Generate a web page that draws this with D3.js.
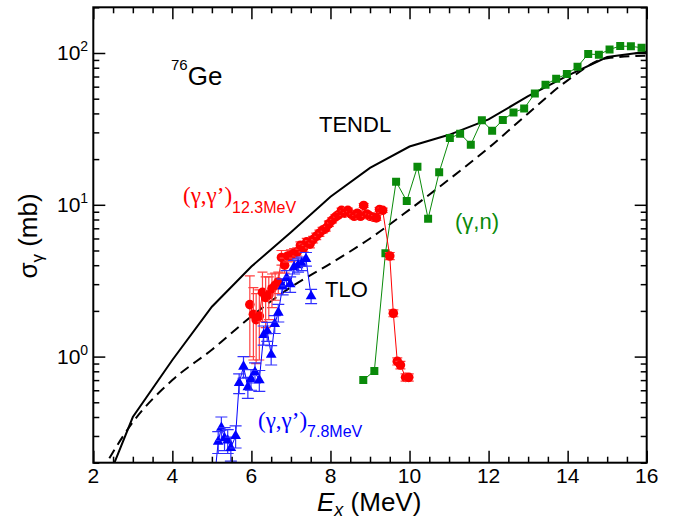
<!DOCTYPE html>
<html>
<head>
<meta charset="utf-8">
<script src="https://cdn.jsdelivr.net/npm/d3@7"></script>
<style>
  html, body { margin: 0; padding: 0; background: #fff; }
  svg { display: block; }
  text { font-family: "Liberation Sans", Arial, Helvetica, sans-serif; }
</style>
</head>
<body>
<svg id="chart" width="673" height="523"></svg>
<script>
// ---------- data ----------
const xTickValues = [2, 4, 6, 8, 10, 12, 14, 16];
const yTickExponents = [0, 1, 2];

// TENDL (solid) evaluated at integer energies
const tendlE = [2, 2.5, 3, 4, 5, 6, 7, 8, 9, 10, 11, 12, 13, 14, 15, 16];
const tendlV = [0.09, 0.19, 0.40, 0.95, 2.13, 3.92, 6.6, 11.3, 17.5, 24.2, 28.9, 36.5, 52, 71, 94, 102];

// TLO (dashed)
const tloE = [2, 3, 4, 5, 6, 7, 8, 9, 10, 11, 12, 13, 14, 15, 16];
const tloV = [0.14, 0.37, 0.70, 1.11, 1.84, 2.87, 4.1, 6.0, 9.3, 14.7, 23.7, 40, 66, 92.5, 96];

// (gamma,n) green squares
const gnE = [8.83, 9.11, 9.39, 9.66, 9.93, 10.2, 10.47, 10.75, 11.02, 11.28, 11.55, 11.83, 12.09, 12.36, 12.63, 12.9, 13.17, 13.44, 13.71, 13.98, 14.25, 14.52, 14.79, 15.06, 15.33, 15.6, 15.87];
const gnV = [0.70, 0.805, 4.8, 14.2, 10.6, 17.8, 8.1, 16.4, 27.5, 29.4, 24.9, 36, 30.7, 36.2, 40.6, 43.1, 54.2, 61.8, 67.7, 72.7, 81.2, 98.5, 97.5, 105.6, 111, 110.6, 108.4];

// (gamma,gamma') 12.3 MeV red circles
const r12E = [5.96, 6.05, 6.12, 6.2, 6.28, 6.36, 6.44, 6.52, 6.6, 6.68, 6.76, 6.84, 6.92, 7.0, 7.08, 7.16, 7.24, 7.32, 7.4, 7.48, 7.56, 7.64, 7.72, 7.8, 7.88, 7.96, 8.04, 8.12, 8.2, 8.28, 8.36, 8.44, 8.52, 8.6, 8.68, 8.76, 8.84, 8.92, 9.0, 9.08, 9.16, 9.24, 9.32, 9.5, 9.59, 9.69, 9.77, 9.9, 9.98];
const r12V = [2.2, 1.9, 1.75, 1.85, 2.65, 2.45, 2.55, 2.8, 2.95, 3.1, 4.5, 4.0, 4.6, 4.65, 4.8, 4.9, 5.4, 5.2, 5.7, 5.5, 5.9, 6.2, 6.5, 6.8, 7.0, 7.5, 7.9, 8.3, 8.6, 9.2, 8.8, 9.2, 8.7, 8.4, 8.8, 8.4, 9.9, 8.7, 8.4, 8.3, 8.2, 9.3, 9.2, 4.6, 1.93, 0.93, 0.88, 0.73, 0.73];
const r12Err = [1.2, 0.95, 0.85, 0.9, 0.95, 0.9, 0.8, 0.7, 0.6, 0.5, 0.5, 0.45, 0.4, 0.4, 0.35, 0.3, 0.3, 0.3, 0.3, 0.3, 0.3, 0.3, 0.3, 0.3, 0.3, 0.3, 0.3, 0.3, 0.3, 0.3, 0.3, 0.3, 0.3, 0.3, 0.3, 0.3, 0.3, 0.3, 0.3, 0.3, 0.3, 0.3, 0.3, 0.25, 0.1, 0.05, 0.05, 0.04, 0.04];

// (gamma,gamma') 7.8 MeV blue triangles
const r7E = [5.08, 5.16, 5.24, 5.32, 5.40, 5.48, 5.60, 5.69, 5.80, 5.91, 5.99, 6.09, 6.20, 6.31, 6.40, 6.50, 6.59, 6.68, 6.79, 6.89, 6.98, 7.08, 7.18, 7.27, 7.38, 7.51];
const r7V = [0.17, 0.275, 0.34, 0.29, 0.28, 0.25, 0.30, 0.67, 0.86, 0.63, 0.71, 0.79, 0.70, 1.39, 1.47, 1.03, 1.64, 1.95, 2.9, 3.3, 3.0, 3.9, 4.0, 4.1, 4.4, 2.5];
const r7Err = [0.03, 0.045, 0.06, 0.05, 0.05, 0.045, 0.05, 0.1, 0.14, 0.1, 0.11, 0.12, 0.11, 0.2, 0.21, 0.15, 0.22, 0.26, 0.35, 0.38, 0.35, 0.4, 0.4, 0.42, 0.45, 0.27];

// ---------- layout ----------
const svg = d3.select("#chart");
const L = 93.3, R = 646.7, T = 7.3, B = 462.7;
const x = d3.scaleLinear().domain([2, 16]).range([L, R]);
const y = d3.scaleLog().domain([0.2, 200]).range([B, T]);

svg.append("defs").append("clipPath").attr("id", "clip")
  .append("rect").attr("x", L).attr("y", T).attr("width", R - L).attr("height", B - T);

const plot = svg.append("g").attr("clip-path", "url(#clip)");

// ---------- theory curves ----------
const tendl = tendlE.map((e, i) => [e, tendlV[i]]);
const tlo = tloE.map((e, i) => [e, tloV[i]]);

plot.append("path").datum(tendl)
  .attr("d", d3.line().x(d => x(d[0])).y(d => y(d[1])))
  .attr("fill", "none").attr("stroke", "#000").attr("stroke-width", 2);

plot.append("path").datum(tlo)
  .attr("d", d3.line().x(d => x(d[0])).y(d => y(d[1])).curve(d3.curveMonotoneX))
  .attr("fill", "none").attr("stroke", "#000").attr("stroke-width", 2)
  .attr("stroke-dasharray", "10,6");

// ---------- (gamma,n) ----------
const gn = gnE.map((e, i) => [e, gnV[i]]);
const green = "#0a8a0a";
plot.append("path").datum(gn)
  .attr("d", d3.line().x(d => x(d[0])).y(d => y(d[1])))
  .attr("fill", "none").attr("stroke", green).attr("stroke-width", 1);
plot.selectAll(".gn").data(gn).enter().append("path")
  .attr("transform", d => `translate(${x(d[0])},${y(d[1])})`)
  .attr("d", d3.symbol().type(d3.symbolSquare).size(64))
  .attr("fill", green);

// ---------- red (12.3 MeV) ----------
const red = "#ff0000", redBar = "#ff4040";
const r12 = r12E.map((e, i) => ({ e, v: r12V[i], err: r12Err[i] }));
plot.append("path").datum(r12)
  .attr("d", d3.line().x(d => x(d.e)).y(d => y(d.v)))
  .attr("fill", "none").attr("stroke", red).attr("stroke-width", 1);
const rg = plot.selectAll(".r12").data(r12).enter().append("g");
rg.append("line").attr("x1", d => x(d.e)).attr("x2", d => x(d.e))
  .attr("y1", d => y(Math.max(d.v - d.err, 0.05))).attr("y2", d => y(d.v + d.err))
  .attr("stroke", redBar).attr("stroke-width", 1.2);
rg.append("line").attr("x1", d => x(d.e) - 5).attr("x2", d => x(d.e) + 5)
  .attr("y1", d => y(d.v + d.err)).attr("y2", d => y(d.v + d.err))
  .attr("stroke", redBar).attr("stroke-width", 1.2);
rg.append("line").attr("x1", d => x(d.e) - 5).attr("x2", d => x(d.e) + 5)
  .attr("y1", d => y(Math.max(d.v - d.err, 0.05))).attr("y2", d => y(Math.max(d.v - d.err, 0.05)))
  .attr("stroke", redBar).attr("stroke-width", 1.2);
rg.append("circle").attr("cx", d => x(d.e)).attr("cy", d => y(d.v)).attr("r", 4.8).attr("fill", red);

// ---------- blue (7.8 MeV) ----------
const blue = "#0000ff", blueBar = "#3030ff";
const r7 = r7E.map((e, i) => ({ e, v: r7V[i], err: r7Err[i] }));
plot.append("path").datum(r7)
  .attr("d", d3.line().x(d => x(d.e)).y(d => y(d.v)))
  .attr("fill", "none").attr("stroke", blue).attr("stroke-width", 1);
const bg = plot.selectAll(".r7").data(r7).enter().append("g");
bg.append("line").attr("x1", d => x(d.e)).attr("x2", d => x(d.e))
  .attr("y1", d => y(d.v - d.err)).attr("y2", d => y(d.v + d.err))
  .attr("stroke", blueBar).attr("stroke-width", 1.2);
bg.append("line").attr("x1", d => x(d.e) - 6).attr("x2", d => x(d.e) + 6)
  .attr("y1", d => y(d.v + d.err)).attr("y2", d => y(d.v + d.err))
  .attr("stroke", blueBar).attr("stroke-width", 1.2);
bg.append("line").attr("x1", d => x(d.e) - 6).attr("x2", d => x(d.e) + 6)
  .attr("y1", d => y(d.v - d.err)).attr("y2", d => y(d.v - d.err))
  .attr("stroke", blueBar).attr("stroke-width", 1.2);
bg.append("path")
  .attr("transform", d => `translate(${x(d.e)},${y(d.v)})`)
  .attr("d", d3.symbol().type(d3.symbolTriangle).size(50))
  .attr("fill", blue);

// ---------- axes ----------
const xMinor = d3.range(2, 16.01, 0.5).filter(v => !xTickValues.includes(v));
const yAll = y.ticks();
const yMajor = yTickExponents.map(p => Math.pow(10, p));
const yMinor = yAll.filter(v => !yMajor.some(m => Math.abs(m - v) < 1e-9));

function addAxis(axisFn, scale, values, size, transform) {
  const g = svg.append("g").attr("transform", transform)
    .call(axisFn(scale).tickValues(values).tickSizeInner(-size).tickSizeOuter(0).tickFormat(""));
  g.select(".domain").remove();
  g.selectAll(".tick line").attr("stroke", "#000").attr("stroke-width", 1.5);
  return g;
}
addAxis(d3.axisBottom, x, xTickValues, 12, `translate(0,${B})`);
addAxis(d3.axisBottom, x, xMinor, 6, `translate(0,${B})`);
addAxis(d3.axisTop, x, xTickValues, 12, `translate(0,${T})`);
addAxis(d3.axisTop, x, xMinor, 6, `translate(0,${T})`);
addAxis(d3.axisLeft, y, yMajor, 12, `translate(${L},0)`);
addAxis(d3.axisLeft, y, yMinor, 6, `translate(${L},0)`);
addAxis(d3.axisRight, y, yMajor, 12, `translate(${R},0)`);
addAxis(d3.axisRight, y, yMinor, 6, `translate(${R},0)`);

svg.append("rect").attr("x", L).attr("y", T).attr("width", R - L).attr("height", B - T)
  .attr("fill", "none").attr("stroke", "#000").attr("stroke-width", 2);

// tick labels
svg.selectAll(".xl").data(xTickValues).enter().append("text")
  .attr("x", d => x(d)).attr("y", B + 20.5).attr("text-anchor", "middle")
  .attr("font-size", 21).attr("fill", "#000").text(d => d);

const yl = svg.selectAll(".yl").data(yTickExponents).enter().append("text")
  .attr("x", 57).attr("y", d => y(Math.pow(10, d)) + 7.5)
  .attr("font-size", 21).attr("fill", "#000");
yl.append("tspan").text("10");
yl.append("tspan").attr("font-size", 14).attr("dy", -9).text(d => d);

// axis titles
const xt = svg.append("text").attr("x", 317).attr("y", 511).attr("font-size", 26).attr("fill", "#000");
xt.append("tspan").attr("font-style", "italic").text("E");
xt.append("tspan").attr("font-style", "italic").attr("font-size", 18).attr("dy", 5).text("x");
xt.append("tspan").attr("dy", -5).text(" (MeV)");

const yt = svg.append("text").attr("transform", "translate(37,236) rotate(-90)")
  .attr("text-anchor", "middle").attr("font-size", 26).attr("fill", "#000");
yt.append("tspan").text("σ");
yt.append("tspan").attr("font-size", 17).attr("dy", 6).text("γ");
yt.append("tspan").attr("dy", -6).text(" (mb)");

// annotations
const ge = svg.append("text").attr("x", 171).attr("y", 85).attr("font-size", 26).attr("fill", "#000");
ge.append("tspan").attr("font-size", 15).attr("dy", -15).text("76");
ge.append("tspan").attr("dy", 15).text("Ge");

svg.append("text").attr("x", 319).attr("y", 132).attr("font-size", 22).attr("fill", "#000").text("TENDL");
svg.append("text").attr("x", 325).attr("y", 297).attr("font-size", 22).attr("fill", "#000").text("TLO");
svg.append("text").attr("x", 455).attr("y", 229).attr("font-size", 22).attr("fill", green).text("(γ,n)");

const rl = svg.append("text").attr("x", 183).attr("y", 203).attr("fill", red);
rl.append("tspan").attr("font-family", "'Liberation Serif', 'Times New Roman', serif").attr("font-size", 23).text("(γ,γ’)");
rl.append("tspan").attr("font-size", 16).attr("dy", 10).text("12.3MeV");

const bl = svg.append("text").attr("x", 258).attr("y", 428).attr("fill", blue);
bl.append("tspan").attr("font-family", "'Liberation Serif', 'Times New Roman', serif").attr("font-size", 23).text("(γ,γ’)");
bl.append("tspan").attr("font-size", 16).attr("dy", 9).text("7.8MeV");
</script>
</body>
</html>
